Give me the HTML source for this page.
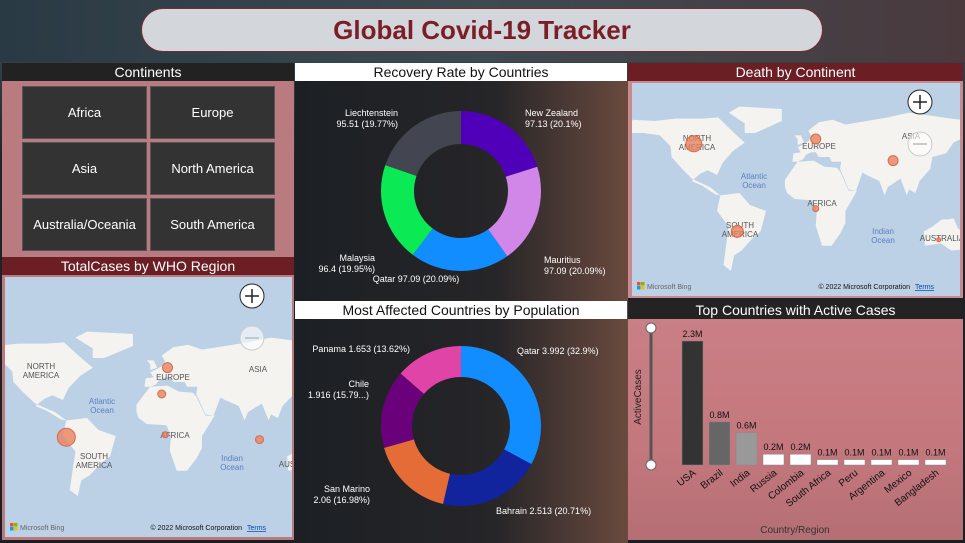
<!DOCTYPE html>
<html><head><meta charset="utf-8">
<style>
body{margin:0;width:965px;height:543px;overflow:hidden;font-family:"Liberation Sans",sans-serif;}
#root{position:relative;width:965px;height:543px;background:linear-gradient(180deg,#2b3a44 0%,#34424a 10%,#1f2428 30%,#1c1f22 100%);}
.hdr{position:absolute;height:18px;line-height:18px;text-align:center;font-size:14px;}
.btn{position:absolute;width:125px;height:53px;background:#333333;border:1px solid #555;color:#fff;font-size:13px;display:flex;align-items:center;justify-content:center;box-sizing:border-box;}
svg text{font-family:"Liberation Sans",sans-serif;}
</style></head><body>
<div id="root">
<svg width="965" height="543" style="position:absolute;left:0;top:0">
<defs>
<linearGradient id="mid" x1="0" y1="0" x2="1" y2="0"><stop offset="0" stop-color="#1c2024"/><stop offset="0.6" stop-color="#262528"/><stop offset="1" stop-color="#6a4a3e"/></linearGradient>
<linearGradient id="top" x1="0" y1="0" x2="1" y2="0"><stop offset="0" stop-color="#2a3a44"/><stop offset="0.5" stop-color="#3d4a50"/><stop offset="1" stop-color="#4a3a3e"/></linearGradient>
</defs>
<rect x="0" y="0" width="965" height="62" fill="url(#top)"/>
<rect x="295" y="81" width="333" height="462" fill="url(#mid)"/>
</svg>
<div style="position:absolute;left:141px;top:8px;width:682px;height:44px;border-radius:22px;background:#d3d6da;border:1px solid #7a2a30;box-sizing:border-box;text-align:center;line-height:42px;font-size:26px;font-weight:bold;color:#7a1f28;">Global Covid-19 Tracker</div>

<div style="position:absolute;left:2px;top:63px;width:292px;height:194px;background:#b97a80;"></div>
<div class="hdr" style="left:2px;top:63px;width:292px;background:#222;color:#fff;">Continents</div>
<div class="btn" style="left:22px;top:86px;">Africa</div>
<div class="btn" style="left:150px;top:86px;">Europe</div>
<div class="btn" style="left:22px;top:142px;">Asia</div>
<div class="btn" style="left:150px;top:142px;">North America</div>
<div class="btn" style="left:22px;top:198px;">Australia/Oceania</div>
<div class="btn" style="left:150px;top:198px;">South America</div>

<div style="position:absolute;left:2px;top:257px;width:292px;height:283px;background:#b97a80;"></div>
<div class="hdr" style="left:2px;top:257px;width:292px;background:#6b1e24;color:#fff;">TotalCases by WHO Region</div>
<svg id="map1" width="287" height="260" style="position:absolute;left:5px;top:277px"></svg>

<div class="hdr" style="left:295px;top:63px;width:332px;background:#fff;color:#111;">Recovery Rate by Countries</div>
<svg id="donut1" width="333" height="220" style="position:absolute;left:295px;top:81px"></svg>

<div class="hdr" style="left:295px;top:301px;width:332px;background:#fff;color:#111;">Most Affected Countries by Population</div>
<svg id="donut2" width="333" height="223" style="position:absolute;left:295px;top:320px"></svg>

<div style="position:absolute;left:628px;top:63px;width:335px;height:235px;background:#c98a8e;"></div>
<div class="hdr" style="left:628px;top:63px;width:335px;background:#6b1e24;color:#fff;">Death by Continent</div>
<svg id="map2" width="328" height="213" style="position:absolute;left:632px;top:83px"></svg>

<div style="position:absolute;left:628px;top:301px;width:335px;height:239px;background:linear-gradient(180deg,#c98086,#c4787e 60%,#b46f74);"></div>
<div class="hdr" style="left:628px;top:301px;width:335px;background:#232323;color:#fff;">Top Countries with Active Cases</div>
<svg id="bars" width="335" height="222" style="position:absolute;left:628px;top:319px"></svg>
</div>

<script>
const NS='http://www.w3.org/2000/svg';
function mk(p,t,a){const e=document.createElementNS(NS,t);for(const k in a)e.setAttribute(k,a[k]);p.appendChild(e);return e;}

const barCountries=['USA','Brazil','India','Russia','Colombia','South Africa','Peru','Argentina','Mexico','Bangladesh'];
const barValues=[2.3,0.8,0.6,0.2,0.2,0.1,0.1,0.1,0.1,0.1];
const barLabels=['2.3M','0.8M','0.6M','0.2M','0.2M','0.1M','0.1M','0.1M','0.1M','0.1M'];
const barColors=['#333333','#666666','#999999','#ffffff','#ffffff','#ffffff','#ffffff','#ffffff','#ffffff','#ffffff'];

const recCountries=['New Zealand','Mauritius','Qatar','Malaysia','Liechtenstein'];
const recValues=[97.13,97.09,97.09,96.4,95.51];
const recColors=['#5000b8','#d087e8','#118dff','#0bea54','#434650'];
const popCountries=['Qatar','Bahrain','San Marino','Chile','Panama'];
const popValues=[3.992,2.513,2.06,1.916,1.653];
const popColors=['#118dff','#12239e','#e66c37','#6b007b','#e044a7'];

(function(){
 const s=document.getElementById('bars');
 const base=146, x0=54, step=27, bw=21, maxV=2.3, maxH=124;
 const yS=v=>v/maxV*maxH;
 mk(s,'line',{x1:23,y1:8,x2:23,y2:146,stroke:'#555','stroke-width':3});
 const c1=mk(s,'circle',{cx:23,cy:9,r:5,fill:'#fff',stroke:'#666'});
 
 
 const c2=mk(s,'circle',{cx:23,cy:146,r:5,fill:'#fff',stroke:'#666'});
 
 
 const yt=mk(s,'text',{x:13,y:78,'font-size':10,fill:'#222','text-anchor':'middle',transform:'rotate(-90 13 78)'});
 yt.textContent='ActiveCases';
 
 
 const xt=mk(s,'text',{x:167,y:214,'font-size':10,fill:'#333','text-anchor':'middle'});
 xt.textContent='Country/Region';
 
 
 barValues.forEach((v,i)=>{
  const h=yS(v), x=x0+i*step;
  const r=mk(s,'rect',{x:x,y:base-h,width:bw,height:h,fill:barColors[i],stroke:'#888','stroke-width':0.5});
  
  
  const t=mk(s,'text',{x:x+bw/2,y:base-h-4,'font-size':9,fill:'#111','text-anchor':'middle'});
  t.textContent=barLabels[i];
  
  
  const cx=x+bw/2+4, cy=base+9;
  const l=mk(s,'text',{x:cx,y:cy,'font-size':10,fill:'#111','text-anchor':'end',transform:`rotate(-38 ${cx} ${cy})`});
  l.textContent=barCountries[i];
  
  
 });
})();

function donut(id,vals,cols,names,cx,cy,R,r,labels){
 const s=document.getElementById(id);
 const tot=vals.reduce((a,b)=>a+b,0); let a0=-Math.PI/2;
 vals.forEach((v,i)=>{
  const a1=a0+v/tot*2*Math.PI, lg=(a1-a0)>Math.PI?1:0;
  const p=(A,rr)=>[cx+rr*Math.cos(A),cy+rr*Math.sin(A)];
  const [x1,y1]=p(a0,R),[x2,y2]=p(a1,R),[x3,y3]=p(a1,r),[x4,y4]=p(a0,r);
  const e=mk(s,'path',{d:`M${x1},${y1}A${R},${R} 0 ${lg} 1 ${x2},${y2}L${x3},${y3}A${r},${r} 0 ${lg} 0 ${x4},${y4}Z`,fill:cols[i]});
  
  
  a0=a1;
 });
 labels.forEach(L=>{
  L.lines.forEach((tx,j)=>{
   const t=mk(s,'text',{x:L.x,y:L.y+j*11,'font-size':9,fill:'#fff','text-anchor':L.a});
   t.textContent=tx;
   
   
  });
 });
}
donut('donut1',recValues,recColors,recCountries,166,110,80,47,[
 {x:230,y:35,a:'start',lines:['New Zealand','97.13 (20.1%)']},
 {x:103,y:35,a:'end',lines:['Liechtenstein','95.51 (19.77%)']},
 {x:249,y:182,a:'start',lines:['Mauritius','97.09 (20.09%)']},
 {x:80,y:180,a:'end',lines:['Malaysia','96.4 (19.95%)']},
 {x:121,y:201,a:'middle',lines:['Qatar 97.09 (20.09%)']}
]);
donut('donut2',popValues,popColors,popCountries,166,106,80,49,[
 {x:222,y:34,a:'start',lines:['Qatar 3.992 (32.9%)']},
 {x:115,y:32,a:'end',lines:['Panama 1.653 (13.62%)']},
 {x:74,y:67,a:'end',lines:['Chile','1.916 (15.79...)']},
 {x:75,y:172,a:'end',lines:['San Marino','2.06 (16.98%)']},
 {x:201,y:194,a:'start',lines:['Bahrain 2.513 (20.71%)']}
]);

const land=[
 [[-168,66],[-160,71],[-140,70],[-120,72],[-95,72],[-80,73],[-65,60],[-55,52],[-66,45],[-76,35],[-81,25],[-90,29],[-97,26],[-105,20],[-95,16],[-83,9],[-78,8],[-88,15],[-105,22],[-115,31],[-124,40],[-125,49],[-135,58],[-150,60],[-165,60]],
 [[-55,60],[-45,60],[-20,70],[-20,80],[-60,82],[-70,77],[-55,68]],
 [[-78,8],[-60,10],[-50,0],[-35,-5],[-40,-22],[-48,-28],[-58,-38],[-65,-42],[-68,-55],[-75,-50],[-72,-30],[-70,-18],[-81,-5],[-80,0]],
 [[-10,36],[-9,43],[-2,44],[-5,48],[5,53],[8,57],[5,62],[15,69],[28,71],[40,67],[60,70],[80,73],[100,77],[140,72],[180,68],[180,62],[160,60],[142,52],[135,43],[122,40],[120,30],[110,20],[106,10],[100,13],[98,8],[92,22],[80,15],[77,8],[72,20],[60,25],[56,27],[50,12],[43,13],[35,30],[36,36],[27,36],[25,40],[20,40],[15,40],[12,44],[8,44],[3,42],[0,38],[-5,36]],
 [[-17,15],[-17,21],[-10,30],[-5,36],[10,37],[20,32],[32,31],[35,28],[43,12],[51,12],[40,-5],[40,-15],[35,-24],[27,-34],[18,-34],[12,-17],[13,-5],[9,4],[-8,5],[-15,10]],
 [[114,-22],[122,-18],[131,-12],[137,-12],[142,-11],[146,-19],[153,-26],[150,-37],[140,-38],[130,-32],[115,-34]],
 [[-8,58],[-2,58],[1,52],[-5,50],[-5,55]]
];
const deathRegions=['NORTH AMERICA','EUROPE','ASIA','AFRICA','SOUTH AMERICA','AUSTRALIA'];
const deathValues=[8,5,5,3,6,2];
const deathLon=[-103,12,85,12,-62,128];
const deathLat=[51,55,37,-3,-22,-29];
const whoRegions=['Americas','Europe','Eastern Mediterranean','Africa','South-East Asia'];
const whoValues=[9,5,4,3,4];
const whoLon=[-78,10,5,8,90];
const whoLat=[-6,52,30,-4,-8];
function drawMap(id,W,H,ax,bx,ay,by,bub,labels,zoomY,vals,lons,lats,names){
 const s=document.getElementById(id);
 mk(s,'rect',{x:0,y:0,width:W,height:H,fill:'#bcd1e5'});
 const g=mk(s,'g',{});
 land.forEach(poly=>{
  mk(g,'polygon',{points:poly.map(p=>(ax*p[0]+bx)+','+(by-ay*p[1])).join(' '),fill:'#f5f3f0'});
 });
 labels.forEach(L=>{
  L.t.forEach((tx,j)=>{const t=mk(s,'text',{x:L.x,y:L.y+j*9,'font-size':8,fill:L.c||'#555','text-anchor':'middle'});t.textContent=tx;});
 });
 vals.forEach((v,i)=>{
  const c=mk(s,'circle',{cx:ax*lons[i]+bx,cy:by-ay*lats[i],r:v,fill:'#e8825f','fill-opacity':0.8,stroke:'#d86a48'});
  
  
 });
 const zx=W-40;
 const zi=mk(s,'circle',{cx:zx,cy:zoomY,r:12,fill:'#fff',stroke:'#222'});
 
 
 mk(s,'path',{d:`M${zx-7},${zoomY}h14M${zx},${zoomY-7}v14`,stroke:'#222','stroke-width':1.5});
 const zo=mk(s,'circle',{cx:zx,cy:zoomY+42,r:12,fill:'#fff','fill-opacity':0.6,stroke:'#ccc'});
 
 
 mk(s,'path',{d:`M${zx-7},${zoomY+42}h14`,stroke:'#bbb','stroke-width':1.5});
 const sq=['#f25022','#7fba00','#00a4ef','#ffb900'];
 sq.forEach((c,i)=>mk(s,'rect',{x:5+(i%2)*4,y:H-14+Math.floor(i/2)*4,width:3.5,height:3.5,fill:c}));
 const b=mk(s,'text',{x:15,y:H-7,'font-size':7,fill:'#666'});b.textContent='Microsoft Bing';
 const c=mk(s,'text',{x:W-50,y:H-7,'font-size':7,fill:'#111','text-anchor':'end'});c.textContent='© 2022 Microsoft Corporation';
 const tm=mk(s,'text',{x:W-45,y:H-7,'font-size':7,fill:'#0645ad','text-decoration':'underline'});tm.textContent='Terms';
 
 
}
drawMap('map2',328,213,1.06,171,1.2,122,null,[
 {x:65,y:58,t:['NORTH','AMERICA']},{x:187,y:66,t:['EUROPE']},{x:190,y:123,t:['AFRICA']},
 {x:108,y:145,t:['SOUTH','AMERICA']},{x:279,y:56,t:['ASIA']},{x:310,y:158,t:['AUSTRALIA']},
 {x:122,y:96,t:['Atlantic','Ocean'],c:'#5b7fbf'},{x:251,y:151,t:['Indian','Ocean'],c:'#5b7fbf'}
],19,deathValues,deathLon,deathLat,deathRegions);
drawMap('map1',287,260,1.15,151,1.2,153,null,[
 {x:36,y:92,t:['NORTH','AMERICA']},{x:168,y:103,t:['EUROPE']},{x:170,y:161,t:['AFRICA']},
 {x:89,y:182,t:['SOUTH','AMERICA']},{x:253,y:95,t:['ASIA']},{x:282,y:190,t:['AUS']},
 {x:97,y:127,t:['Atlantic','Ocean'],c:'#5b7fbf'},{x:227,y:184,t:['Indian','Ocean'],c:'#5b7fbf'}
],19,whoValues,whoLon,whoLat,whoRegions);
</script>
</body></html>
